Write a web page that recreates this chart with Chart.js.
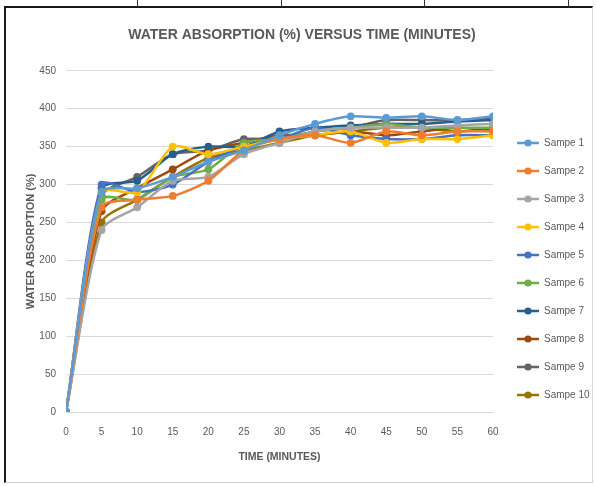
<!DOCTYPE html>
<html>
<head>
<meta charset="utf-8">
<script src="https://cdn.jsdelivr.net/npm/chart.js@4/dist/chart.umd.min.js"></script>
<style>
  html, body { margin: 0; padding: 0; background: #fff; }
  #wrap { position: relative; width: 596px; height: 486px; }
  #frame { position: absolute; left: 4px; top: 6px; width: 589px; height: 477px;
           border-left: 2px solid #1a1a1a; border-top: 2px solid #1a1a1a;
           border-bottom: 1px solid #cfcfcf; border-right: 1px solid #d8d8d8;
           box-sizing: border-box; pointer-events: none; }
  .cell { position: absolute; top: 0; width: 1px; height: 7px; background: #333; }
</style>
</head>
<body>
<div id="wrap">
  <canvas id="c" width="596" height="486"></canvas>
  <div id="frame"></div>
  <div class="cell" style="left:137px"></div>
  <div class="cell" style="left:281px"></div>
  <div class="cell" style="left:424px"></div>
  <div class="cell" style="left:568px"></div>
</div>
<script>
// Time in minutes
const minutes = [0, 5, 10, 15, 20, 25, 30, 35, 40, 45, 50, 55, 60];

// Water absorption (%) per sample
const sampe1  = [0, 290, 295, 310, 330, 345, 365, 380, 390, 388, 390, 385, 390];
const sampe2  = [0, 270, 280, 285, 305, 345, 360, 365, 355, 370, 365, 370, 370];
const sampe3  = [0, 240, 270, 305, 310, 340, 355, 370, 375, 375, 375, 378, 380];
const sampe4  = [0, 290, 290, 350, 340, 350, 360, 365, 370, 355, 360, 360, 365];
const sampe5  = [0, 300, 290, 300, 330, 350, 360, 375, 365, 360, 360, 365, 365];
const sampe6  = [0, 280, 280, 310, 320, 355, 360, 370, 375, 380, 375, 375, 375];
const sampe7  = [0, 295, 305, 340, 350, 350, 370, 375, 378, 380, 380, 383, 385];
const sampe8  = [0, 265, 295, 320, 345, 355, 365, 365, 370, 365, 370, 375, 372];
const sampe9  = [0, 285, 310, 340, 345, 360, 360, 370, 375, 385, 385, 385, 388];
const sampe10 = [0, 250, 280, 310, 335, 345, 355, 365, 370, 375, 375, 370, 375];

const seriesNames = ['Sampe 1', 'Sampe 2', 'Sampe 3', 'Sampe 4', 'Sampe 5',
                     'Sampe 6', 'Sampe 7', 'Sampe 8', 'Sampe 9', 'Sampe 10'];
const seriesValues = [sampe1, sampe2, sampe3, sampe4, sampe5,
                      sampe6, sampe7, sampe8, sampe9, sampe10];
const seriesColors = ['#5B9BD5', '#ED7D31', '#A5A5A5', '#FFC000', '#4472C4',
                      '#70AD47', '#255E91', '#9E480E', '#636363', '#997300'];

const FONT = "'Liberation Sans', Arial, sans-serif";
const TEXT = '#595959';

// Legend swatch: short line with a round marker on it
function swatch(color) {
  const cv = document.createElement('canvas');
  cv.width = 28; cv.height = 10;
  const g = cv.getContext('2d');
  g.strokeStyle = color; g.lineWidth = 2.5;
  g.beginPath(); g.moveTo(6, 5); g.lineTo(28, 5); g.stroke();
  g.fillStyle = color;
  g.beginPath(); g.arc(17, 5, 3.6, 0, Math.PI * 2); g.fill();
  return cv;
}
const swatches = seriesColors.map(swatch);

const datasets = seriesNames.map((name, i) => ({
  label: name,
  data: minutes.map((m, j) => ({ x: m, y: seriesValues[i][j] })),
  borderColor: seriesColors[i],
  backgroundColor: seriesColors[i],
  borderWidth: 2.5,
  pointRadius: 3.9,
  pointHoverRadius: 3.9,
  pointBorderWidth: 0,
  tension: 0.25
}));

new Chart(document.getElementById('c'), {
  type: 'line',
  data: { datasets },
  options: {
    responsive: false,
    animation: false,
    layout: { padding: { top: 20, left: 8, bottom: 12, right: 0 } },
    plugins: {
      title: {
        display: true,
        text: 'WATER ABSORPTION (%) VERSUS TIME (MINUTES)',
        color: TEXT,
        font: { family: FONT, size: 14, weight: 'bold' },
        padding: { top: 7, bottom: 27 }
      },
      legend: {
        position: 'right',
        align: 'start',
        fullSize: true,
        maxWidth: 103,
        title: { display: true, text: '', font: { size: 10, lineHeight: 1 }, padding: { top: 90, bottom: 0 } },
        labels: {
          usePointStyle: true,
          pointStyleWidth: 28,
          padding: 18,
          color: TEXT,
          font: { family: FONT, size: 10 },
          generateLabels: (chart) => chart.data.datasets.map((ds, i) => ({
            text: ds.label,
            fillStyle: ds.borderColor,
            strokeStyle: ds.borderColor,
            fontColor: TEXT,
            lineWidth: 0,
            pointStyle: swatches[i],
            datasetIndex: i,
            hidden: false
          }))
        }
      },
      tooltip: { enabled: false }
    },
    scales: {
      x: {
        type: 'linear',
        min: 0, max: 60,
        ticks: { stepSize: 5, color: TEXT, padding: 14, font: { family: FONT, size: 10 } },
        grid: { display: false, drawTicks: false },
        border: { display: true, color: '#D9D9D9', width: 1 },
        title: {
          display: true, text: 'TIME (MINUTES)', color: TEXT,
          font: { family: FONT, size: 10.5, weight: 'bold' },
          padding: { top: 4, bottom: 11 }
        },
        afterFit: (s) => { s.height = 62; }
      },
      y: {
        min: 0, max: 450,
        ticks: { stepSize: 50, color: TEXT, padding: 10, font: { family: FONT, size: 10 } },
        grid: { color: '#D9D9D9', lineWidth: 1, drawTicks: false },
        border: { display: false },
        title: {
          display: true, text: 'WATER ABSORPTION (%)', color: TEXT,
          font: { family: FONT, size: 11, weight: 'bold' },
          padding: { top: 16, bottom: 0 }
        },
        afterFit: (s) => { s.width = 58; }
      }
    }
  }
});
</script>
</body>
</html>
